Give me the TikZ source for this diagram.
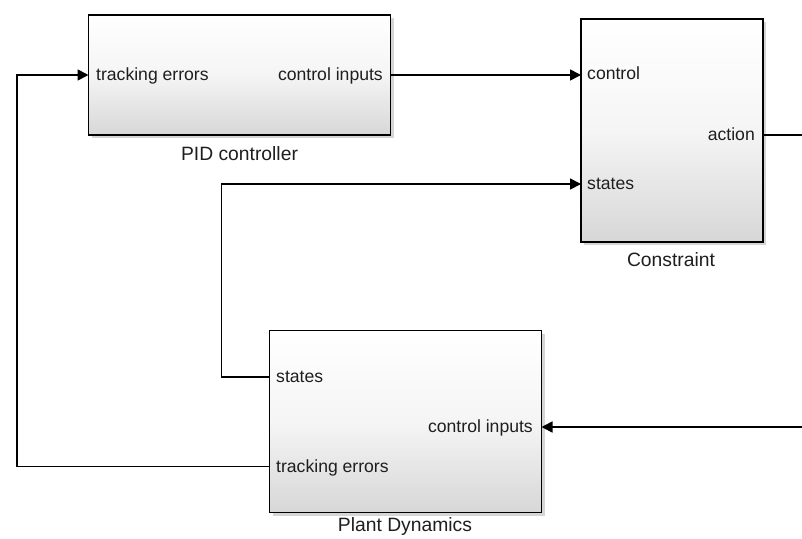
\documentclass[tikz,border=0pt]{standalone}
\usepackage{fontspec}
\setmainfont{Liberation Sans}
\usetikzlibrary{arrows.meta,shadows}
\definecolor{txt}{RGB}{30,30,30}
\definecolor{shadebot}{RGB}{215,215,215}
\tikzset{
  blk/.style={draw=black, line width=1.8pt, inner sep=0pt, outer sep=0pt,
    top color=white, bottom color=shadebot, middle color=white!75!shadebot,
    drop shadow={shadow xshift=3pt, shadow yshift=-3pt, opacity=0.3, fill=black!55}},
  port/.style={inner sep=0pt, text=txt, font=\fontsize{17.6}{20}\selectfont, yshift=-3pt},
  blkcaption/.style={inner sep=0pt, text=txt, font=\fontsize{19.3}{22}\selectfont},
  wire/.style={draw=black, line width=1.7pt},
  arr/.style={wire, -{Triangle[length=11pt,width=11pt]}}
}
\begin{document}
\begin{tikzpicture}[x=1pt,y=-1pt]
\useasboundingbox (0,0) rectangle (802,538);
% blocks
\node[blk, minimum width=302pt, minimum height=120pt] (pid) at (239.5,75) {};
\node[blk, minimum width=182pt, minimum height=223pt] (con) at (672,130.5) {};
\node[blk, minimum width=272pt, minimum height=182pt] (pla) at (405.5,421.5) {};
% captions
\node[blkcaption] (pidcap) at (239.5,154) {PID controller};
\node[blkcaption] (concap) at (671,260) {Constraint};
\node[blkcaption] (placap) at (405,527) {Plant Dynamics};
% port labels
\node[port, anchor=mid west] (pidte) at (96,75) {tracking errors};
\node[port, anchor=mid east] (pidci) at (383,75) {control inputs};
\node[port, anchor=mid west] (conctl) at (587,74) {control};
\node[port, anchor=mid west] (const) at (587,184) {states};
\node[port, anchor=mid east] (conact) at (755,135) {action};
\node[port, anchor=mid west] (plast) at (276,377) {states};
\node[port, anchor=mid east] (placi) at (533,427) {control inputs};
\node[port, anchor=mid west] (plate) at (276,466.5) {tracking errors};
% port coordinates
\coordinate (pidin) at (pid.west |- 0,75);
\coordinate (pidout) at (pid.east |- 0,75);
\coordinate (conin1) at (con.west |- 0,75);
\coordinate (conin2) at (con.west |- 0,184);
\coordinate (conout) at (con.east |- 0,135);
\coordinate (plaout1) at (pla.west |- 0,377);
\coordinate (plain) at (pla.east |- 0,427);
\coordinate (plaout2) at (pla.west |- 0,466.5);
\coordinate (leftx) at (17,0);
\coordinate (midx) at (221.5,0);
\coordinate (actend) at (802,135);
\coordinate (cistart) at (802,427);
% connectors
\draw[arr] (pidout) -- (conin1);
\draw[wire] (conout) -- (actend);
\draw[arr] (cistart) -- (plain);
\draw[arr] (plaout1) -| (midx |- conin2) -- (conin2);
\draw[arr] (plaout2) -| (leftx |- pidin) -- (pidin);
\end{tikzpicture}
\end{document}
